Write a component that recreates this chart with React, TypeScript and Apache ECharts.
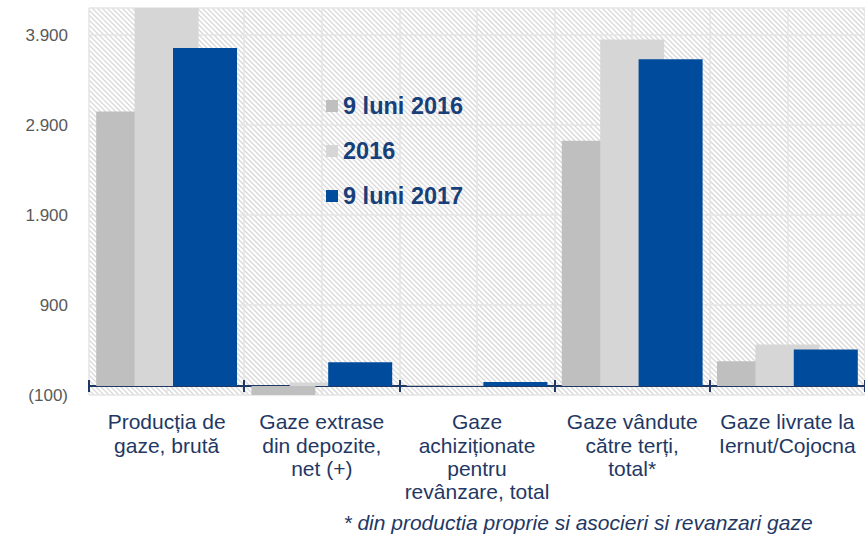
import React, { useEffect, useRef } from "react";
import * as echarts from "echarts";

const categories = [
  "Producția de\ngaze, brută",
  "Gaze extrase\ndin depozite,\nnet (+)",
  "Gaze\nachiziționate\npentru\nrevânzare, total",
  "Gaze vândute\ncătre terți,\ntotal*",
  "Gaze livrate la\nIernut/Cojocna",
];
const seriesNames = ["9 luni 2016", "2016", "9 luni 2017"];
const nineMonths2016 = [3050, -110, 12, 2725, 275];
const year2016 = [4350, 40, 15, 3850, 460];
const nineMonths2017 = [3755, 265, 45, 3630, 405];
const seriesColors = ["#bfbfbf", "#d6d6d6", "#004b9b"];
const yMin = -100;
const yMax = 4200;
const yInterval = 1000;
const footnote = "* din productia proprie si asocieri si revanzari gaze";

const NAVY = "#1f3864";
const GRID = { left: 89, top: 8, width: 777, height: 387 };

function fmtNum(v: number): string {
  const s = Math.round(Math.abs(v)).toString();
  return s.replace(/\B(?=(\d{3})+(?!\d))/g, ".");
}

// decorative diagonal hatch filling the plot area
function hatchLines(): any[] {
  const L = GRID.left;
  const T = GRID.top;
  const R = GRID.left + GRID.width;
  const B = GRID.top + GRID.height;
  const step = 5;
  const out: any[] = [];
  for (let x0 = L - GRID.height; x0 <= R; x0 += step) {
    const k = x0 - T; // line: x - y = k
    const xa = Math.max(L, T + k);
    const xb = Math.min(R, B + k);
    if (xb <= xa) continue;
    out.push({
      type: "line",
      z: -5,
      silent: true,
      shape: { x1: xa, y1: xa - k, x2: xb, y2: xb - k },
      style: { stroke: "#d9d9d9", lineWidth: 1.3 },
    });
  }
  return out;
}

export default function App() {
  const ref = useRef<HTMLDivElement>(null);
  useEffect(() => {
    document.body.style.margin = "0";
    const chart = echarts.init(ref.current!, null, { renderer: "svg" });
    const data = [nineMonths2016, year2016, nineMonths2017];
    chart.setOption({
      animation: false,
      backgroundColor: "#ffffff",
      grid: {
        left: GRID.left,
        top: GRID.top,
        width: GRID.width,
        height: GRID.height,
        show: false,
      },
      legend: {
        orient: "vertical",
        left: 321,
        top: 89,
        itemWidth: 12,
        itemHeight: 12,
        itemGap: 21,
        icon: "rect",
        data: seriesNames,
        textStyle: {
          fontFamily: "Liberation Sans, Arial, sans-serif",
          fontSize: 23.5,
          fontWeight: "bold",
          color: "#17407a",
          lineHeight: 23,
        },
      },
      xAxis: [
        {
          type: "category",
          data: categories,
          position: "bottom",
          axisLine: { show: true, onZero: true, onZeroAxisIndex: 0, lineStyle: { color: NAVY, width: 2 } },
          axisTick: { show: true, length: 6, lineStyle: { color: NAVY, width: 2 } },
          axisLabel: {
            interval: 0,
            margin: 15,
            fontFamily: "Liberation Sans, Arial, sans-serif",
            fontSize: 21,
            lineHeight: 23.4,
            color: NAVY,
            align: "center",
          },
          splitLine: { show: false },
        },
        {
          type: "value",
          min: 0,
          max: 10,
          interval: 1,
          position: "top",
          axisLine: { show: false, onZero: false },
          axisTick: { show: false },
          axisLabel: { show: false },
          splitLine: { show: true, lineStyle: { color: "#e4e4e4", width: 1.5 } },
        },
        {
          type: "category",
          data: categories,
          position: "bottom",
          axisLine: { show: false, onZero: true, onZeroAxisIndex: 0 },
          axisTick: { show: true, inside: true, length: 6, lineStyle: { color: NAVY, width: 2 } },
          axisLabel: { show: false },
          splitLine: { show: false },
        },
      ],
      yAxis: {
        type: "value",
        min: yMin,
        max: yMax,
        interval: yInterval,
        axisLine: { show: false },
        axisTick: { show: false },
        axisLabel: {
          showMaxLabel: false,
          margin: 21,
          fontFamily: "Liberation Sans, Arial, sans-serif",
          fontSize: 17,
          color: "#595959",
          formatter: (v: number) => (v < 0 ? `(${fmtNum(v)})` : fmtNum(v)),
        },
        splitLine: { show: true, lineStyle: { color: "#e4e4e4", width: 1.5 } },
      },
      series: seriesNames.map((name, i) => ({
        name,
        type: "bar",
        xAxisIndex: 0,
        yAxisIndex: 0,
        data: data[i],
        barWidth: 64,
        barGap: "-40%",
        itemStyle: { color: seriesColors[i] },
        clip: true,
      })),
      graphic: [
        ...hatchLines(),
        {
          type: "text",
          x: 578,
          y: 522,
          style: {
            text: footnote,
            font: "italic 21px 'Liberation Sans', Arial, sans-serif",
            fill: NAVY,
            align: "center",
            verticalAlign: "middle",
          },
        },
      ],
    });
    return () => chart.dispose();
  }, []);
  return <div ref={ref} style={{ width: 865, height: 534 }} />;
}
